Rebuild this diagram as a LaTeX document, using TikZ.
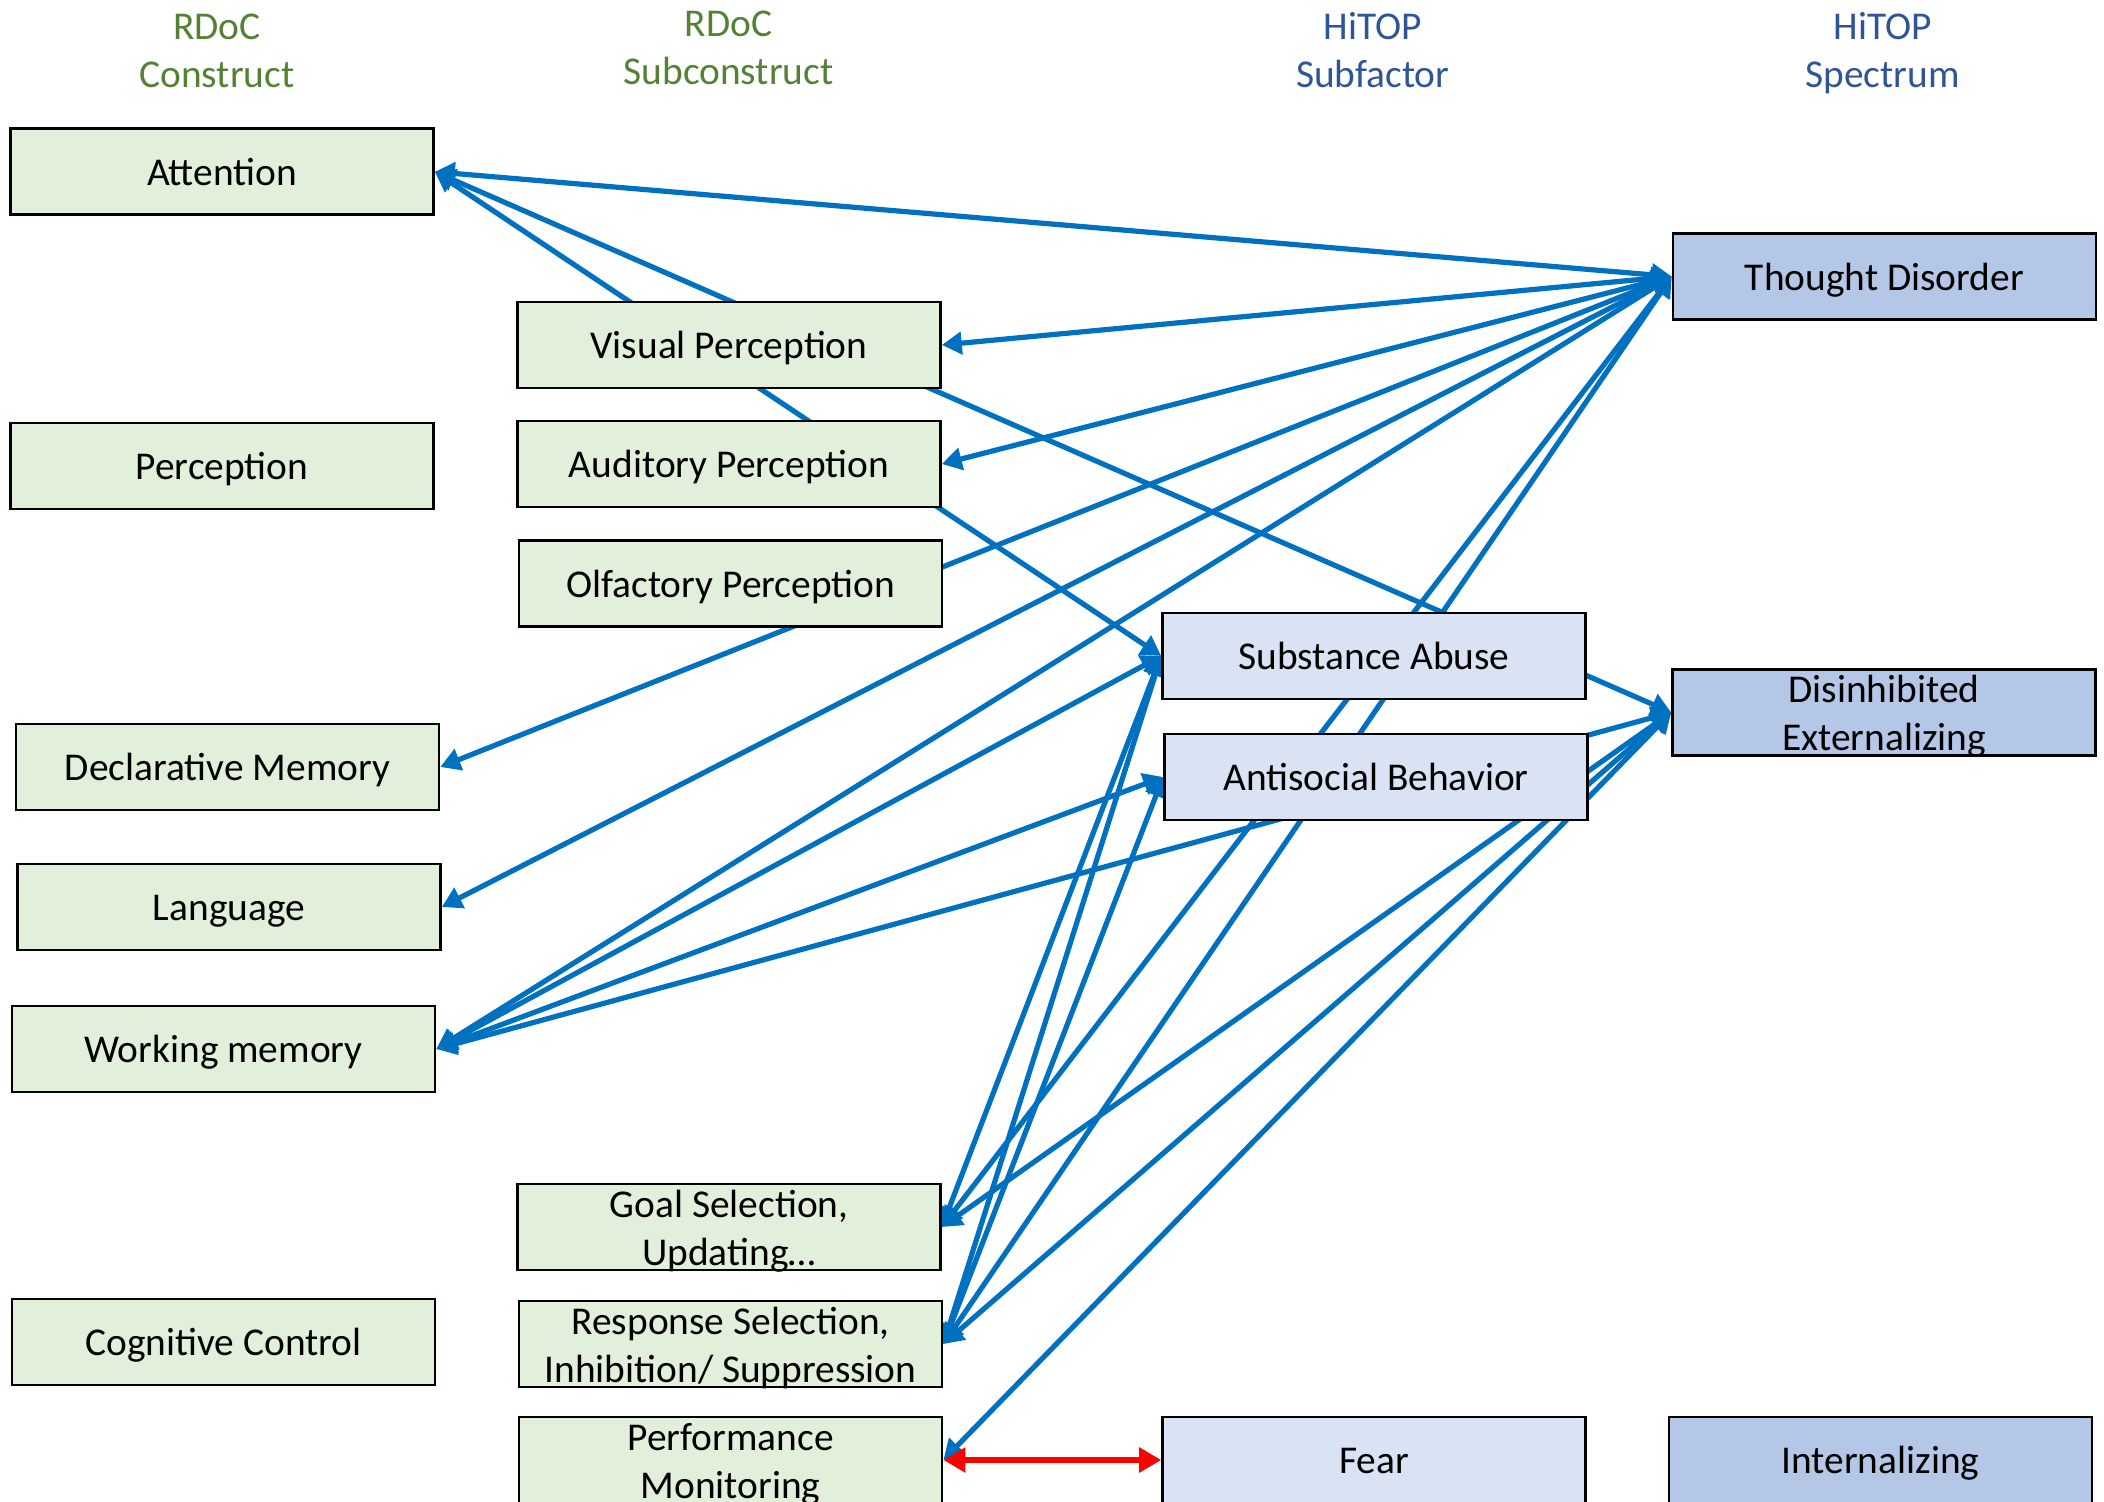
\documentclass[tikz,border=0pt]{standalone}
\usepackage{fontspec}
\setmainfont{Carlito}
\usetikzlibrary{arrows.meta}
\pgfdeclarelayer{bg}
\pgfsetlayers{bg,main}
\definecolor{gfill}{HTML}{E2EFDA}
\definecolor{lbfill}{HTML}{DAE3F3}
\definecolor{dbfill}{HTML}{B4C7E7}
\definecolor{arrowblue}{HTML}{0070C0}
\definecolor{hgreen}{HTML}{548235}
\definecolor{hblue}{HTML}{2F5597}
\tikzset{
  box/.style={draw=black, line width=1.3pt, minimum width=211.5pt, minimum height=43pt,
    inner sep=0pt, align=center, text height=17pt, text depth=3.2pt,
    font=\fontsize{19.7}{24}\selectfont},
  rd/.style={box, fill=gfill},
  sf/.style={box, fill=lbfill},
  sp/.style={box, fill=dbfill},
  txt/.style={align=center, inner sep=0pt, font=\fontsize{19.7}{24}\selectfont},
  hdr/.style={align=center, inner sep=0pt, font=\fontsize{19.7}{24}\selectfont},
  link/.style={draw=arrowblue, line width=2.6pt, >={Triangle[length=10pt,width=11pt]}, <->},
  redlink/.style={draw=red, line width=3.4pt, >={Triangle[length=11pt,width=12pt]}, <->}
}
\begin{document}
\begin{tikzpicture}[x=0.5pt,y=-0.5pt]
\useasboundingbox (0,0) rectangle (2104,1502);
% headers
\node[hdr, text=hgreen] (h1) at (217,50.5) {RDoC\\Construct};
\node[hdr, text=hgreen] (h2) at (728.6,47.8) {RDoC\\Subconstruct};
\node[hdr, text=hblue] (h3) at (1372.7,49.6) {HiTOP\\Subfactor};
\node[hdr, text=hblue] (h4) at (1882.6,53.2) {HiTOP\\Spectrum};
% RDoC constructs
\node[rd] (att) at (222,171.8) {Attention};
\node[rd] (per) at (222,466) {Perception};
\node[rd] (dm) at (227.5,767) {Declarative Memory};
\node[rd] (lang) at (229,907) {Language};
\node[rd] (wm) at (223.5,1049) {Working memory};
\node[rd] (cc) at (223.5,1342) {Cognitive Control};
% RDoC subconstructs
\node[rd] (vp) at (729,345) {Visual Perception};
\node[rd] (ap) at (729,464) {Auditory Perception};
\node[rd] (op) at (730.6,583.7) {Olfactory Perception};
\node[rd] (gs) at (729,1227) {};
\node[txt] (gs-t) at ([yshift=-2pt]gs.center) {Goal Selection,\\Updating…};
\node[rd] (rs) at (730.6,1344) {};
\node[txt] (rs-t) at ([yshift=-2pt]rs.center) {Response Selection,\\Inhibition/ Suppression};
\node[rd] (pm) at (730.6,1460) {};
\node[txt] (pm-t) at ([yshift=-2pt]pm.center) {Performance\\Monitoring};
% HiTOP subfactors
\node[sf] (sa) at (1374,656) {Substance Abuse};
\node[sf] (ab) at (1376,777) {Antisocial Behavior};
\node[sf] (fear) at (1374,1460) {Fear};
% HiTOP spectra
\node[sp] (td) at (1884.5,276.5) {Thought Disorder};
\node[sp] (de) at (1884,712.5) {};
\node[txt] (de-t) at ([yshift=-2pt]de.center) {Disinhibited\\Externalizing};
\node[sp] (int) at (1880.5,1460) {Internalizing};
% connectors
\begin{pgfonlayer}{bg}
\draw[link] (att.east) -- (td.west);
\draw[link] (att.east) -- (sa.west);
\draw[link] (att.east) -- (de.west);
\draw[link] (vp.east) -- (td.west);
\draw[link] (ap.east) -- (td.west);
\draw[link] (dm.east) -- (td.west);
\draw[link] (lang.east) -- (td.west);
\draw[link] (wm.east) -- (td.west);
\draw[link] (wm.east) -- (sa.west);
\draw[link] (wm.east) -- (ab.west);
\draw[link] (wm.east) -- (de.west);
\draw[link] (gs.east) -- (td.west);
\draw[link] (gs.east) -- (sa.west);
\draw[link] (gs.east) -- (de.west);
\draw[link] (rs.east) -- (td.west);
\draw[link] (rs.east) -- (sa.west);
\draw[link] (rs.east) -- (ab.west);
\draw[link] (rs.east) -- (de.west);
\draw[link] (pm.east) -- (de.west);
\draw[redlink] (pm.east) -- (fear.west);
\end{pgfonlayer}
\end{tikzpicture}
\end{document}
